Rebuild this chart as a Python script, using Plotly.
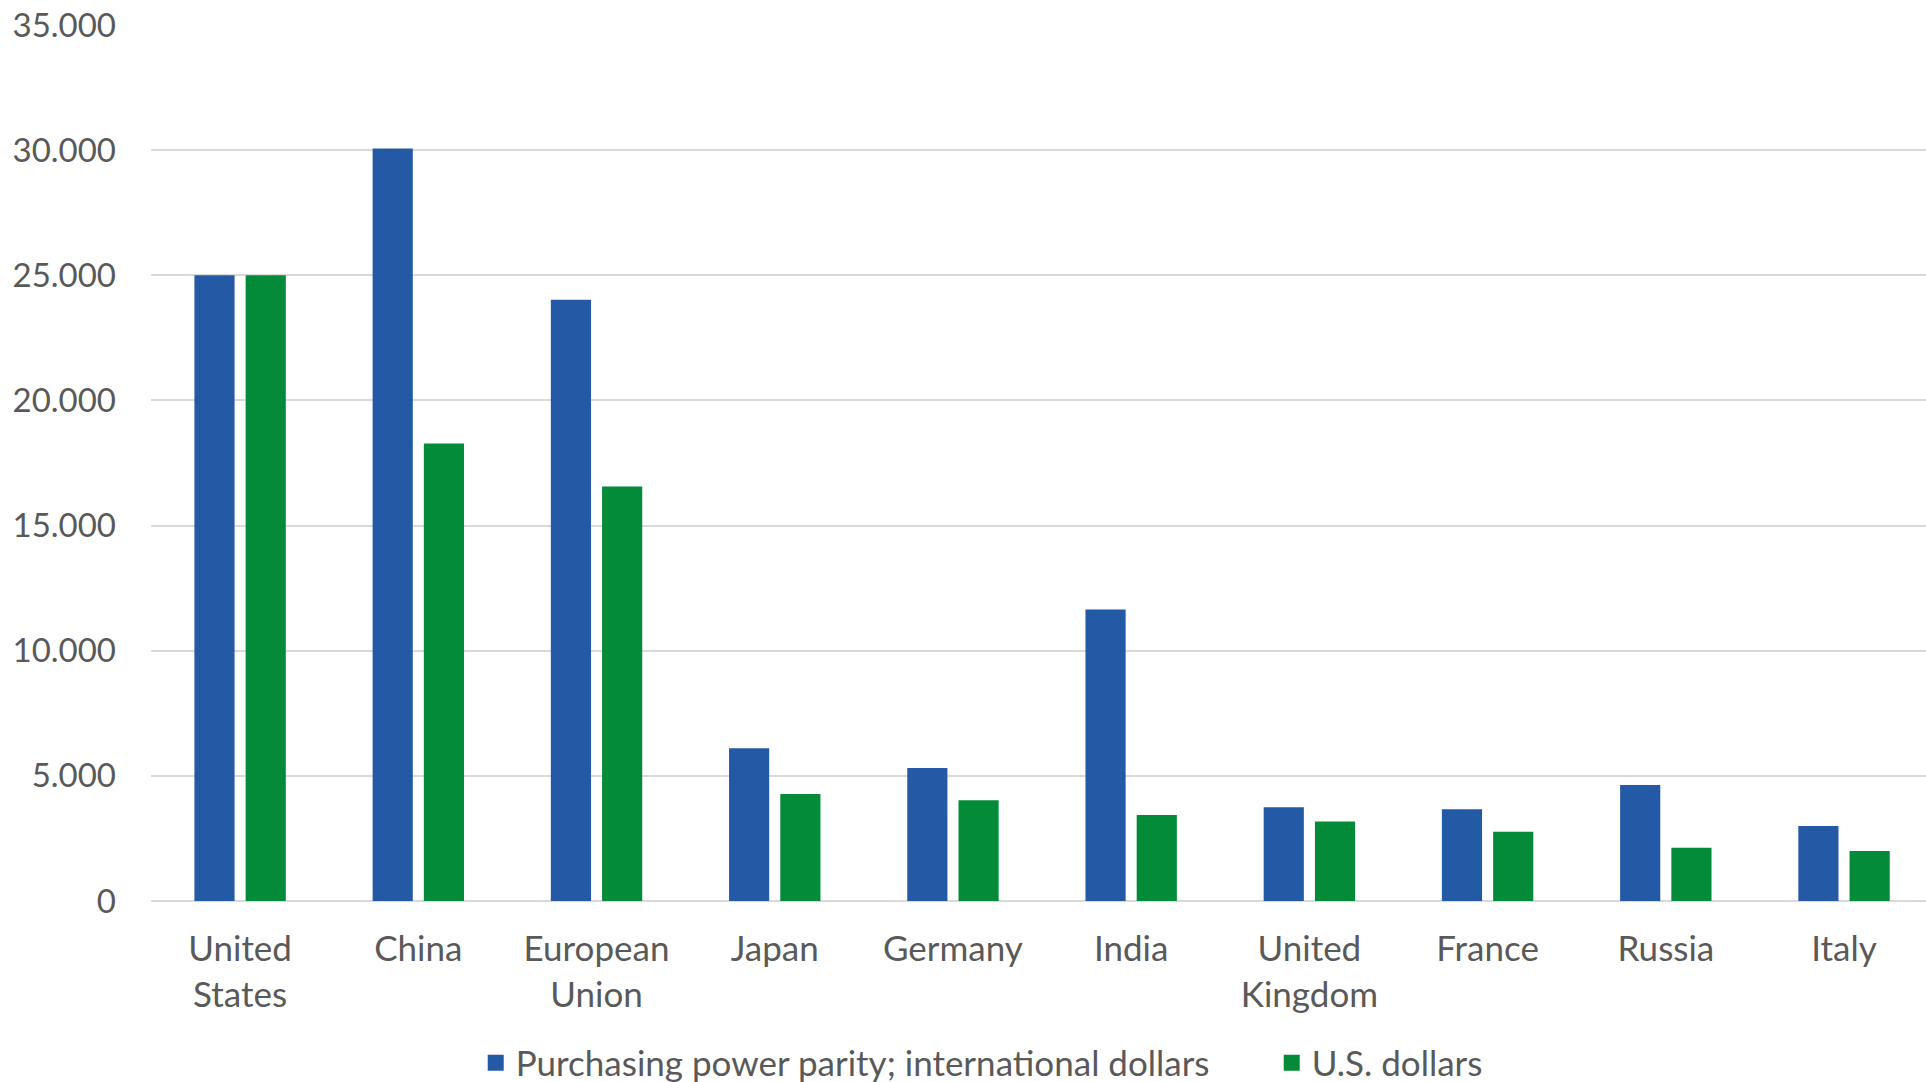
import plotly.graph_objects as go

categories = ["United<br>States", "China", "European<br>Union", "Japan", "Germany",
              "India", "United<br>Kingdom", "France", "Russia", "Italy"]
ppp = [25000, 30070, 24020, 6100, 5310, 11650, 3750, 3670, 4630, 3000]
usd = [25000, 18280, 16560, 4280, 4030, 3440, 3180, 2770, 2130, 2000]
series_names = ["Purchasing power parity; international dollars", "U.S. dollars"]
colors = ["#2459A6", "#038B39"]

FONT = "Lato"
TXT = "#595959"

fig = go.Figure()
for vals, name, col in zip([ppp, usd], series_names, colors):
    fig.add_trace(go.Bar(x=categories, y=vals, name=name, marker_color=col,
                         marker_line_width=0, showlegend=False))
# legend-only entries with larger square swatches
for name, col in zip(series_names, colors):
    fig.add_trace(go.Scatter(x=[None], y=[None], mode="markers", name=name,
                             marker=dict(symbol="square", size=16, color=col),
                             showlegend=True, hoverinfo="skip"))

fig.update_layout(
    width=1926, height=1082,
    margin=dict(l=151, r=0, t=25, b=181, autoexpand=False),
    paper_bgcolor="white", plot_bgcolor="white",
    separators=",.",
    barmode="group", bargap=0.425, bargroupgap=0.216,
    font=dict(family=FONT, size=35, color=TXT),
    showlegend=True,
    legend=dict(orientation="h", xref="container", x=0.247, xanchor="left",
                yref="container", y=0.0176, yanchor="middle",
                font=dict(family=FONT, size=35, color=TXT),
                traceorder="normal", entrywidth=751, entrywidthmode="pixels",
                itemwidth=30, itemsizing="trace"),
)
fig.update_yaxes(range=[0, 35000], dtick=5000, tickformat=",d", showgrid=True,
                 gridcolor="#d9d9d9", gridwidth=1.5, zeroline=True, zerolinecolor="#d9d9d9",
                 zerolinewidth=1.5, showline=False, ticks="", ticklabelstandoff=34,
                 tickfont=dict(family=FONT, size=33, color=TXT))
fig.update_xaxes(showgrid=False, showline=False, ticks="", ticklabelstandoff=24,
                 range=[-0.5, 9.46],
                 tickfont=dict(family=FONT, size=35, color=TXT), tickangle=0)

fig.write_html("out.html")
